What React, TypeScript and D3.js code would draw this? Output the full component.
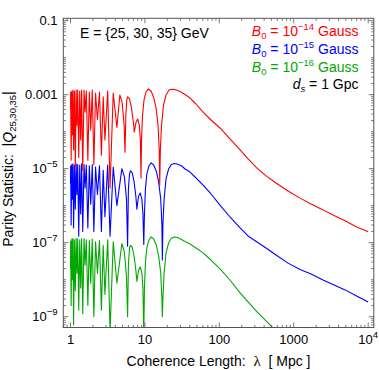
import * as d3 from 'd3';

// coherence length (Mpc) vs |Q|
const redCurve: [number, number][] = [
  [1.0, 3.9e-4], [1.005, 1.18e-3], [1.02, 1.7e-5], [1.04, 1.26e-3], [1.06, 8.1e-5], [1.08, 1.34e-3],
  [1.1, 3.2e-5], [1.13, 1.26e-3], [1.16, 1.0e-5], [1.19, 1.34e-3], [1.22, 1.5e-4], [1.25, 1.34e-3],
  [1.29, 2.0e-5], [1.33, 1.26e-3], [1.37, 6.0e-5], [1.41, 1.34e-3], [1.46, 9.0e-6], [1.52, 1.34e-3],
  [1.57, 3.4e-4], [1.63, 1.26e-3], [1.71, 1.7e-5], [1.79, 1.18e-3], [1.87, 1.1e-4], [1.96, 1.34e-3],
  [2.06, 1.3e-5], [2.17, 1.11e-3], [2.3, 2.1e-4], [2.45, 1.18e-3], [2.6, 2.3e-5], [2.75, 8.7e-4],
  [2.9, 6.0e-5], [3.16, 1.26e-3], [3.4, 3.0e-6], [3.75, 1.11e-3], [4.2, 1.3e-4], [4.6, 9.8e-4],
  [4.95, 6.0e-4], [5.25, 1.5e-4], [5.4, 2.8e-5], [5.54, 2.8e-4], [5.71, 7.2e-4], [5.87, 8.8e-4],
  [6.21, 7.7e-4], [6.6, 4.4e-4], [6.99, 1.8e-4], [7.2, 9.8e-5], [7.59, 1.8e-4], [8.0, 2.2e-4],
  [8.41, 1.5e-4], [8.68, 6.0e-5], [8.86, 5.6e-6], [9.0, 6.0e-5], [9.28, 2.8e-4], [9.72, 7.2e-4],
  [10.35, 1.18e-3], [11.11, 1.43e-3], [12.08, 1.26e-3], [13.05, 8.7e-4], [14.1, 4.4e-4], [15.01, 1.5e-4],
  [15.57, 3.2e-5], [15.81, 3.6e-6], [16.11, 3.2e-5], [16.72, 1.5e-4], [17.78, 5.3e-4], [19.21, 9.8e-4],
  [21.09, 1.34e-3], [22.93, 1.4e-3], [25.39, 1.38e-3], [29.64, 1.22e-3], [34.6, 1.01e-3], [40.4, 8.1e-4],
  [48.6, 5.6e-4], [60.4, 3.4e-4], [77.3, 2.07e-4], [102, 1.26e-4], [139, 6.4e-5], [190, 3.2e-5],
  [243, 1.83e-5], [321, 1.04e-5], [424, 6.4e-6], [578, 4.1e-6], [838, 2.5e-6], [1215, 1.6e-6],
  [1708, 1.11e-6], [2476, 7.7e-7], [3481, 5.4e-7], [4893, 3.9e-7], [6878, 2.7e-7], [10000, 1.98e-7],
];

const blueCurve: [number, number][] = [
  [1.0, 4.0e-6], [1.005, 1.2e-5], [1.02, 3.0e-7], [1.04, 1.3e-5], [1.06, 1.5e-6], [1.08, 1.35e-5],
  [1.1, 2.5e-7], [1.13, 1.25e-5], [1.16, 8.0e-7], [1.19, 1.35e-5], [1.22, 2.0e-6], [1.25, 1.3e-5],
  [1.29, 1.5e-7], [1.33, 1.25e-5], [1.37, 6.0e-7], [1.41, 1.35e-5], [1.46, 2.0e-7], [1.52, 1.3e-5],
  [1.57, 3.0e-6], [1.63, 1.25e-5], [1.71, 2.5e-7], [1.79, 1.2e-5], [1.87, 1.1e-6], [1.96, 1.3e-5],
  [2.06, 2.0e-7], [2.17, 1.1e-5], [2.3, 2.0e-6], [2.45, 1.2e-5], [2.6, 2.0e-7], [2.75, 9.0e-6],
  [2.9, 5.0e-7], [3.16, 1.25e-5], [3.4, 1.5e-7], [3.75, 1.1e-5], [4.2, 1.0e-6], [4.9, 1.0e-5],
  [5.3, 6.0e-6], [5.65, 1.5e-6], [5.85, 8.0e-8], [6.0, 2.8e-6], [6.2, 7.2e-6], [6.4, 8.8e-6],
  [6.75, 7.7e-6], [7.15, 4.4e-6], [7.55, 1.8e-6], [7.8, 8.0e-7], [8.2, 1.8e-6], [8.65, 2.2e-6],
  [9.1, 1.5e-6], [9.4, 6.0e-7], [9.65, 9.0e-8], [9.85, 6.0e-7], [10.15, 2.8e-6], [10.6, 7.2e-6],
  [11.3, 1.18e-5], [12.1, 1.43e-5], [13.1, 1.26e-5], [14.2, 8.7e-6], [15.3, 4.4e-6], [16.3, 1.5e-6],
  [16.9, 3.2e-7], [17.15, 3.4e-8], [17.45, 3.2e-7], [18.1, 1.5e-6], [19.2, 5.3e-6], [20.8, 9.8e-6],
  [22.6, 1.3e-5], [24.8, 1.38e-5], [27.0, 1.34e-5], [31.0, 1.2e-5], [34.6, 9.8e-6], [40.4, 8.1e-6],
  [48.6, 5.6e-6], [60.4, 3.6e-6], [77.3, 2.07e-6], [102, 1.04e-6], [139, 4.95e-7], [190, 2.5e-7],
  [243, 1.52e-7], [321, 1.04e-7], [424, 7.2e-8], [578, 4.65e-8], [838, 2.8e-8], [1215, 1.89e-8],
  [1708, 1.43e-8], [2476, 9.8e-9], [3481, 7.2e-9], [4893, 5.3e-9], [6878, 3.7e-9], [10000, 2.5e-9],
];

const greenCurve: [number, number][] = [
  [1.0, 2.0e-8], [1.005, 1.1e-7], [1.02, 2.0e-9], [1.04, 1.25e-7], [1.06, 1.0e-8], [1.08, 1.3e-7],
  [1.1, 6.0e-10], [1.13, 1.2e-7], [1.16, 5.0e-9], [1.19, 1.3e-7], [1.22, 1.5e-8], [1.25, 1.3e-7],
  [1.29, 1.5e-9], [1.33, 1.2e-7], [1.37, 6.0e-9], [1.41, 1.3e-7], [1.46, 1.2e-9], [1.52, 1.3e-7],
  [1.57, 2.5e-8], [1.63, 1.2e-7], [1.71, 2.0e-9], [1.79, 1.15e-7], [1.87, 8.0e-9], [1.96, 1.25e-7],
  [2.06, 1.0e-9], [2.17, 1.05e-7], [2.3, 1.5e-8], [2.45, 1.15e-7], [2.6, 1.5e-9], [2.75, 8.5e-8],
  [2.9, 4.0e-9], [3.16, 1.2e-7], [3.4, 4.0e-10], [3.75, 1.05e-7], [4.2, 8.0e-9], [4.9, 9.5e-8],
  [5.3, 5.5e-8], [5.65, 1.2e-8], [5.85, 1.0e-9], [6.0, 2.6e-8], [6.2, 7.0e-8], [6.4, 8.5e-8],
  [6.75, 7.5e-8], [7.15, 4.3e-8], [7.55, 1.8e-8], [7.8, 9.0e-9], [8.2, 1.8e-8], [8.65, 2.2e-8],
  [9.1, 1.5e-8], [9.4, 6.0e-9], [9.65, 3.0e-10], [9.85, 6.0e-9], [10.15, 2.8e-8], [10.6, 7.2e-8],
  [11.3, 1.18e-7], [12.1, 1.43e-7], [13.1, 1.26e-7], [14.2, 8.7e-8], [15.3, 4.4e-8], [16.3, 1.5e-8],
  [16.9, 3.2e-9], [17.15, 1.0e-9], [17.45, 3.2e-9], [18.1, 1.5e-8], [19.2, 5.3e-8], [20.8, 9.8e-8],
  [22.6, 1.32e-7], [24.8, 1.43e-7], [27.0, 1.4e-7], [31.0, 1.22e-7], [34.6, 1.08e-7], [40.4, 9.2e-8],
  [48.6, 7.2e-8], [60.4, 5.3e-8], [77.3, 3.4e-8], [102, 1.95e-8], [139, 9.8e-9], [190, 4.4e-9],
  [243, 2.5e-9], [321, 1.34e-9], [424, 7.7e-10], [578, 4.1e-10],
];

const xTickValues = [1, 10, 100, 1000, 10000];
const xTickLabels = ['1', '10', '100', '1000', '10^4'];
const yTickValues = [1e-1, 1e-3, 1e-5, 1e-7, 1e-9];
const yTickLabels = ['0.1', '0.001', '10^−5', '10^−7', '10^−9'];

const legendExponents = ['−14', '−15', '−16'];
const legendColors = ['#ff0000', '#0000ff', '#00a800'];

const WIDTH = 379;
const HEIGHT = 370;
const FRAME = { left: 63.3, right: 373.8, top: 18.3, bottom: 327.5 };
const FONT = '"Liberation Sans", Arial, Helvetica, sans-serif';

// "10^4" -> 10 with superscript 4
const PowerLabel = ({ label }: { label: string }) => {
  const [base, exp] = label.split('^');
  if (!exp) return <>{label}</>;
  return (
    <>
      <tspan>{base}</tspan>
      <tspan dy={-6} fontSize={9.5}>{exp}</tspan>
    </>
  );
};

export default function App() {
  const xScale = d3.scaleLog().domain([0.8, 11900]).range([FRAME.left, FRAME.right]);
  const yScale = d3.scaleLog().domain([5.1e-10, 0.116]).range([FRAME.bottom, FRAME.top]);

  const line = d3
    .line<[number, number]>()
    .x((d) => xScale(d[0]))
    .y((d) => yScale(d[1]));

  // minor ticks: 2..9 x 10^k (and unlabeled decades)
  const xMinor: number[] = [];
  for (let k = -1; k <= 4; k++) {
    for (let m = 1; m <= 9; m++) {
      const v = m * Math.pow(10, k);
      if (v >= 0.8 && v <= 11900 && !xTickValues.includes(v)) xMinor.push(v);
    }
  }
  const yMinor: number[] = [];
  for (let k = -10; k <= -1; k++) {
    for (let m = 1; m <= 9; m++) {
      const v = m * Math.pow(10, k);
      if (v >= 5.1e-10 && v <= 0.116 && !yTickValues.some((t) => Math.abs(t - v) / t < 1e-6)) yMinor.push(v);
    }
  }

  const MAJOR = 5;
  const MINOR = 2.6;
  const frameColor = '#555';

  return (
    <div style={{ position: 'fixed', left: 0, top: 0 }}>
      <svg width={WIDTH} height={HEIGHT} fontFamily={FONT} style={{ display: 'block', background: '#fff' }}>
        <defs>
          <clipPath id="plot-clip">
            <rect x={FRAME.left} y={FRAME.top} width={FRAME.right - FRAME.left} height={FRAME.bottom - FRAME.top} />
          </clipPath>
        </defs>

        {/* curves */}
        <g clipPath="url(#plot-clip)" fill="none" strokeWidth={1.1} strokeLinejoin="round">
          <path d={line(greenCurve) ?? ''} stroke={legendColors[2]} />
          <path d={line(blueCurve) ?? ''} stroke={legendColors[1]} />
          <path d={line(redCurve) ?? ''} stroke={legendColors[0]} />
        </g>

        {/* frame */}
        <rect
          x={FRAME.left}
          y={FRAME.top}
          width={FRAME.right - FRAME.left}
          height={FRAME.bottom - FRAME.top}
          fill="none"
          stroke={frameColor}
          strokeWidth={1}
        />

        {/* x ticks, bottom and top */}
        <g stroke={frameColor} strokeWidth={0.8}>
          {xTickValues.map((v) => (
            <g key={'xm' + v}>
              <line x1={xScale(v)} x2={xScale(v)} y1={FRAME.bottom} y2={FRAME.bottom - MAJOR} />
              <line x1={xScale(v)} x2={xScale(v)} y1={FRAME.top} y2={FRAME.top + MAJOR} />
            </g>
          ))}
          {xMinor.map((v) => (
            <g key={'xn' + v}>
              <line x1={xScale(v)} x2={xScale(v)} y1={FRAME.bottom} y2={FRAME.bottom - MINOR} />
              <line x1={xScale(v)} x2={xScale(v)} y1={FRAME.top} y2={FRAME.top + MINOR} />
            </g>
          ))}
          {yTickValues.map((v) => (
            <g key={'ym' + v}>
              <line x1={FRAME.left} x2={FRAME.left + MAJOR} y1={yScale(v)} y2={yScale(v)} />
              <line x1={FRAME.right} x2={FRAME.right - MAJOR} y1={yScale(v)} y2={yScale(v)} />
            </g>
          ))}
          {yMinor.map((v) => (
            <g key={'yn' + v}>
              <line x1={FRAME.left} x2={FRAME.left + MINOR} y1={yScale(v)} y2={yScale(v)} />
              <line x1={FRAME.right} x2={FRAME.right - MINOR} y1={yScale(v)} y2={yScale(v)} />
            </g>
          ))}
        </g>

        {/* tick labels */}
        <g fontSize={13} fill="#000">
          {xTickValues.map((v, i) => (
            <text key={'xl' + v} x={xScale(v)} y={344} textAnchor="middle">
              <PowerLabel label={xTickLabels[i]} />
            </text>
          ))}
          {yTickValues.map((v, i) => (
            <text key={'yl' + v} x={57.5} y={yScale(v) + 4.6} textAnchor="end">
              <PowerLabel label={yTickLabels[i]} />
            </text>
          ))}
        </g>

        {/* axis titles */}
        <text x={218.5} y={366} fontSize={14} textAnchor="middle" fill="#000">
          Coherence Length:{'\u00a0\u00a0'}
          <tspan fontFamily='"Liberation Serif", "Times New Roman", serif' fontSize={15}>λ</tspan>
          {'\u00a0\u00a0'}[ Mpc ]
        </text>
        <text transform="translate(12.5,169) rotate(-90)" fontSize={14} textAnchor="middle" fill="#000">
          Parity Statistic:{'\u00a0\u00a0'}|<tspan fontStyle="italic">Q</tspan>
          <tspan dy={3.5} fontSize={9.5}>25,30,35</tspan>
          <tspan dy={-3.5}>|</tspan>
        </text>

        {/* energies */}
        <text x={80} y={37.5} fontSize={14} fill="#000">
          E = {'{'}25, 30, 35{'}'} GeV
        </text>

        {/* legend */}
        <g fontSize={14} textAnchor="end">
          {legendExponents.map((e, i) => (
            <text key={e} x={358.5} y={36 + i * 17.8} fill={legendColors[i]}>
              <tspan fontStyle="italic">B</tspan>
              <tspan dy={3} fontSize={9.5}>0</tspan>
              <tspan dy={-3}> = 10</tspan>
              <tspan dy={-6} fontSize={9.5}>{e}</tspan>
              <tspan dy={6}> Gauss</tspan>
            </text>
          ))}
          <text x={358.5} y={36 + 3 * 17.6} fill="#000">
            <tspan fontStyle="italic">d</tspan>
            <tspan dy={3} fontSize={9.5} fontStyle="italic">s</tspan>
            <tspan dy={-3}> = 1 Gpc</tspan>
          </text>
        </g>
      </svg>
    </div>
  );
}
